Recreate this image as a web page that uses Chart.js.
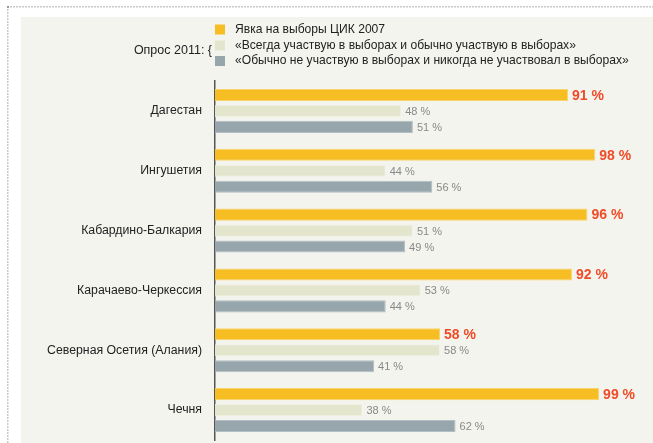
<!DOCTYPE html>
<html>
<head>
<meta charset="utf-8">
<script src="https://cdn.jsdelivr.net/npm/chart.js@4"></script>
<style>
html,body{margin:0;padding:0;background:#fff;overflow:hidden;}
canvas{display:block;}
</style>
</head>
<body>
<canvas id="c" width="653" height="443" style="width:653px;height:443px"></canvas>
<script>
const categories = ['Дагестан','Ингушетия','Кабардино-Балкария','Карачаево-Черкессия','Северная Осетия (Алания)','Чечня'];
const turnout2007 = [91,98,96,92,58,99];
const alwaysVote = [48,44,51,53,58,38];
const neverVote = [51,56,49,44,41,62];
const seriesNames = ['Явка на выборы ЦИК 2007','«Всегда участвую в выборах и обычно участвую в выборах»','«Обычно не участвую в выборах и никогда не участвовал в выборах»'];
const surveyLabel = 'Опрос 2011: {';
const colors = ['#f6be22','#e3e6cc','#97a6ac'];
const borders = ['#f9d46a','#f0f2e2','#b3bec2'];
const FONT = '"Liberation Sans", Arial, sans-serif';

const framePlugin = {
  id:'frame',
  beforeDraw(chart){
    const ctx = chart.ctx;
    ctx.save();
    ctx.fillStyle = '#fff';
    ctx.fillRect(0,0,653,443);
    ctx.fillStyle = '#f4f4ef';
    ctx.fillRect(21,17,632,426);
    ctx.fillStyle = '#c9c9c9';
    for(let x=7;x<653;x+=3){ ctx.fillRect(x,6,2,1.5); }
    for(let y=6;y<443;y+=3){ ctx.fillRect(7,y,1.5,2); }
    ctx.fillStyle = '#999';
    ctx.fillRect(7,6,2,2);
    ctx.restore();
  },
  afterDraw(chart){
    const ctx = chart.ctx;
    ctx.save();
    const ys = [29.5,45.5,61];
    ctx.textBaseline = 'middle';
    ctx.textAlign = 'left';
    ctx.font = '12.1px ' + FONT;
    chart.data.datasets.forEach((ds,i)=>{
      ctx.fillStyle = ds.backgroundColor;
      ctx.fillRect(215,ys[i]-5,10,10);
      ctx.fillStyle = '#222';
      ctx.fillText(ds.label,235,ys[i]);
    });
    ctx.textAlign = 'right';
    ctx.font = '12.5px ' + FONT;
    ctx.fillStyle = '#222';
    ctx.fillText(surveyLabel,212,51);
    chart.data.datasets.forEach((ds,i)=>{
      const meta = chart.getDatasetMeta(i);
      meta.data.forEach((bar,j)=>{
        const v = ds.data[j];
        ctx.textAlign = 'left';
        ctx.textBaseline = 'middle';
        if(i===0){
          ctx.font = 'bold 14px ' + FONT;
          ctx.fillStyle = '#f04b27';
        } else {
          ctx.font = '11px ' + FONT;
          ctx.fillStyle = '#888';
        }
        ctx.fillText(v + ' %', bar.x + 4, bar.y + 1);
      });
    });
    ctx.restore();
  }
};

new Chart(document.getElementById('c'),{
  type:'bar',
  data:{
    labels:categories,
    datasets:[
      {label:seriesNames[0],data:turnout2007,backgroundColor:colors[0],borderColor:borders[0],borderWidth:1},
      {label:seriesNames[1],data:alwaysVote,backgroundColor:colors[1],borderColor:borders[1],borderWidth:1},
      {label:seriesNames[2],data:neverVote,backgroundColor:colors[2],borderColor:borders[2],borderWidth:1}
    ]
  },
  options:{
    indexAxis:'y',
    responsive:false,
    animation:false,
    devicePixelRatio:1,
    categoryPercentage:0.8,
    barPercentage:0.76,
    layout:{padding:{left:0,right:50,top:81,bottom:3}},
    plugins:{legend:{display:false},tooltip:{enabled:false}},
    scales:{
      x:{display:false,min:0,max:100},
      y:{
        afterFit(scale){ scale.width = 215; scale.paddingTop = 0; scale.paddingBottom = 0; },
        grid:{display:false,drawTicks:false},
        border:{display:true,color:'#555',width:1.5},
        ticks:{color:'#222',padding:13,font:{family:FONT,size:12.3}}
      }
    }
  },
  plugins:[framePlugin]
});
</script>
</body>
</html>
